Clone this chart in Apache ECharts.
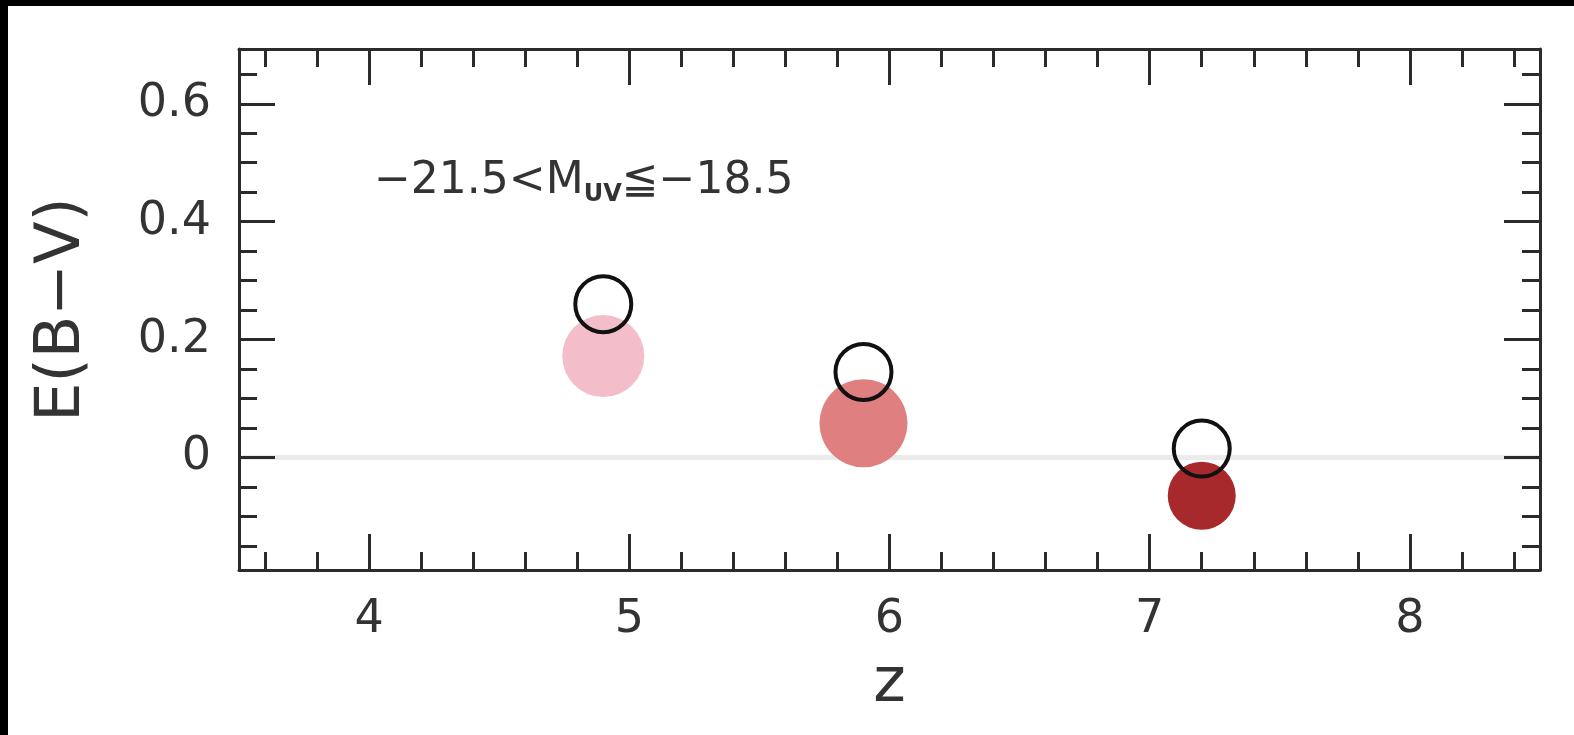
<!DOCTYPE html>
<html>
<head>
<meta charset="utf-8">
<script src="https://cdn.jsdelivr.net/npm/echarts@6/dist/echarts.min.js"></script>
<style>
  html, body { margin: 0; padding: 0; background: #000; width: 1574px; height: 735px; overflow: hidden; }
  #chart { position: absolute; left: 8px; top: 6px; width: 1566px; height: 729px; background: #fff; }
</style>
</head>
<body>
<div id="chart"></div>
<script>
// Redshift bins and colour excess E(B-V)
const redshift = [4.9, 5.9, 7.2];
const ebvFilled = [0.172, 0.058, -0.065];
const ebvOpen = [0.26, 0.145, 0.015];

// Axis ranges and tick values
const X_MIN = 3.5, X_MAX = 8.5;
const Y_MIN = -0.191, Y_MAX = 0.693;
const xMajorTicks = [4, 5, 6, 7, 8];
const yMajorTicks = [0, 0.2, 0.4, 0.6];

const annotation = { pre: '\u221221.5<M', sub: 'UV', post: '\u2266\u221218.5' };
const xTitle = 'z';
const yTitle = 'E(B\u2212V)';

// Marker appearance (per redshift bin)
const filledColors = ['#f3bdca', '#e07f80', '#a8292b'];
const filledSizes = [82, 88, 68];

function minorBetween(min, max, step, majors) {
  const out = [];
  const start = Math.ceil(min / step - 1e-9);
  const end = Math.floor(max / step + 1e-9);
  for (let i = start; i <= end; i++) {
    const v = Math.round(i * step * 1000) / 1000;
    if (v <= min || v >= max) continue;
    if (majors.some(m => Math.abs(m - v) < 1e-6)) continue;
    out.push(v);
  }
  return out;
}
const xMinorTicks = minorBetween(X_MIN, X_MAX, 0.2, xMajorTicks);
const yMinorTicks = minorBetween(Y_MIN, Y_MAX, 0.05, yMajorTicks);

const FONT = 'DejaVu Sans';
const INK = '#2b2b2b';
const TXT = '#333';

function axis(kind, pos, ticks, len, main, labels) {
  const isX = kind === 'x';
  return {
    type: 'value',
    position: pos,
    min: isX ? X_MIN : Y_MIN,
    max: isX ? X_MAX : Y_MAX,
    z: 3,
    axisLine: { show: main, onZero: false, lineStyle: { color: INK, width: 3 } },
    axisTick: { show: true, inside: true, length: len, customValues: ticks,
                lineStyle: { color: INK, width: 3 } },
    axisLabel: { show: !!labels, customValues: ticks, color: TXT,
                 fontFamily: FONT, fontSize: 46, margin: isX ? 27 : 28 },
    splitLine: { show: false },
    minorTick: { show: false },
    minorSplitLine: { show: false }
  };
}

const xBottom = axis('x', 'bottom', xMajorTicks, 36, true, true);
xBottom.name = xTitle;
xBottom.nameLocation = 'middle';
xBottom.nameGap = 84;
xBottom.nameTextStyle = { fontFamily: FONT, fontSize: 62, color: TXT };

const yLeft = axis('y', 'left', yMajorTicks, 36, true, true);
yLeft.name = yTitle;
yLeft.nameLocation = 'middle';
yLeft.nameGap = 145;
yLeft.nameTextStyle = { fontFamily: FONT, fontSize: 62, color: TXT };

const chart = echarts.init(document.getElementById('chart'), null, { renderer: 'canvas' });
chart.setOption({
  animation: false,
  backgroundColor: '#fff',
  grid: { left: 231, top: 43, right: 34, bottom: 165, containLabel: false, outerBoundsMode: 'none' },
  title: {
    text: '{a|' + annotation.pre + '}{b|' + annotation.sub + '}{a|' + annotation.post + '}',
    left: 366, top: 151, padding: 0,
    textStyle: {
      fontWeight: 'normal',
      rich: {
        a: { fontFamily: FONT, fontSize: 44, fontWeight: 'normal', color: TXT, lineHeight: 50 },
        b: { fontFamily: FONT, fontSize: 24, fontWeight: 'bold', color: TXT, lineHeight: 18, verticalAlign: 'bottom' }
      }
    }
  },
  xAxis: [
    xBottom,
    axis('x', 'bottom', xMinorTicks, 18, false, false),
    axis('x', 'top', xMajorTicks, 36, true, false),
    axis('x', 'top', xMinorTicks, 18, false, false)
  ],
  yAxis: [
    yLeft,
    axis('y', 'left', yMinorTicks, 18, false, false),
    axis('y', 'right', yMajorTicks, 36, true, false),
    axis('y', 'right', yMinorTicks, 18, false, false)
  ],
  series: [
    {
      type: 'scatter',
      xAxisIndex: 0, yAxisIndex: 0,
      z: 2,
      data: redshift.map((z, i) => ({
        value: [z, ebvFilled[i]],
        symbolSize: filledSizes[i],
        itemStyle: { color: filledColors[i], opacity: 1 }
      })),
      markLine: {
        silent: true, symbol: 'none', z: 1,
        label: { show: false },
        lineStyle: { color: '#ebebeb', width: 5, type: 'solid' },
        data: [{ yAxis: 0 }]
      }
    },
    {
      type: 'scatter',
      xAxisIndex: 0, yAxisIndex: 0,
      z: 2.5,
      symbolSize: 56,
      itemStyle: { color: 'rgba(0,0,0,0)', borderColor: '#111', borderWidth: 4, opacity: 1 },
      data: redshift.map((z, i) => [z, ebvOpen[i]])
    }
  ]
});
</script>
</body>
</html>
